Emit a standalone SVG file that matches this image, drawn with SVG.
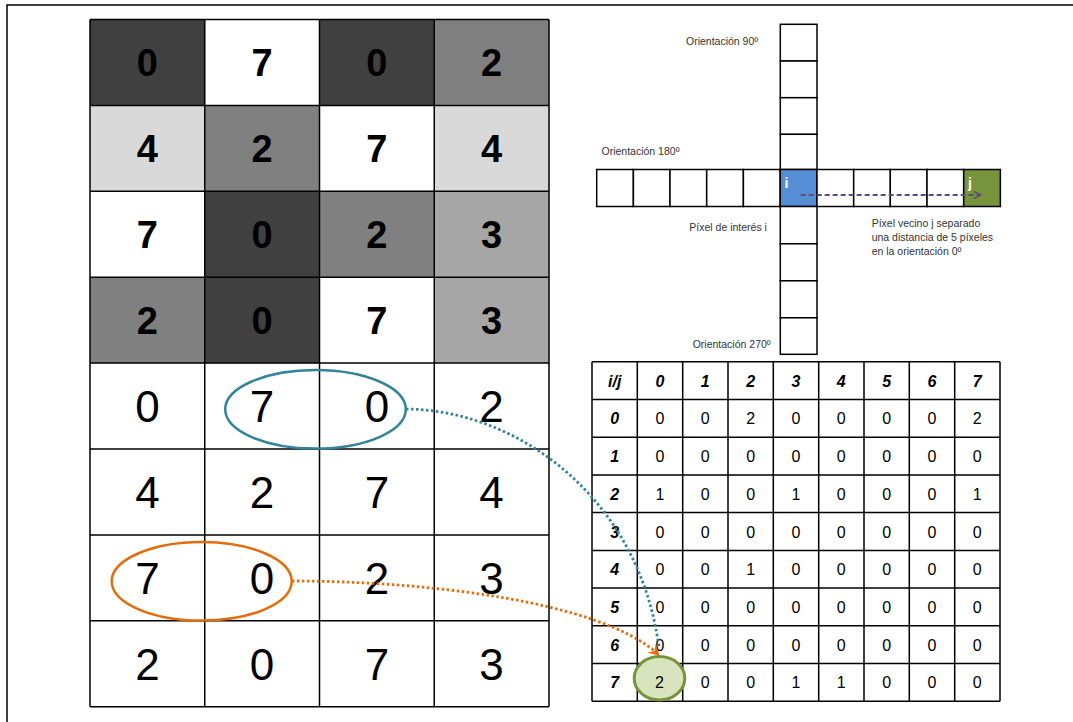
<svg xmlns="http://www.w3.org/2000/svg" width="1073" height="722" viewBox="0 0 1073 722">
<defs>
<style>
.ln{stroke:#000;stroke-width:1.5;fill:none}
.cell{stroke:#000;stroke-width:1.5}
.bigb{font-family:"Liberation Sans",Arial,sans-serif;font-weight:bold;font-size:38px;text-anchor:middle;fill:#000}
.bigr{font-family:"Liberation Sans",Arial,sans-serif;font-size:44px;text-anchor:middle;fill:#000}
.lbl{font-family:"Liberation Sans",Arial,sans-serif;font-size:10.5px;fill:#333}
.mh{font-family:"Liberation Sans",Arial,sans-serif;font-size:16px;font-weight:bold;font-style:italic;text-anchor:middle;fill:#000}
.mv{font-family:"Liberation Sans",Arial,sans-serif;font-size:16px;text-anchor:middle;fill:#000}
.ij{font-family:"Liberation Sans",Arial,sans-serif;font-size:14px;font-weight:bold;fill:#fff}
</style>
<marker id="orh" viewBox="0 0 12 12" refX="10" refY="6" markerWidth="12" markerHeight="12" markerUnits="userSpaceOnUse" orient="auto">
<path d="M0,0 L11,6 L0,12 L4,6 z" fill="#E46C0A"/>
</marker>
<marker id="pah" viewBox="0 0 10 10" refX="9" refY="5" markerWidth="9" markerHeight="9" markerUnits="userSpaceOnUse" orient="auto">
<path d="M1,1 L9,5 L1,9" fill="none" stroke="#604A7B" stroke-width="1.6"/>
</marker>
</defs>
<rect width="1073" height="722" fill="#fff"/>
<path d="M7,722 V5 H1073" fill="none" stroke="#000" stroke-width="1.5"/>

<g id="image-grid">
<rect x="90" y="19.5" width="114.75" height="85.9" fill="#404040"/>
<rect x="204.75" y="19.5" width="114.75" height="85.9" fill="#fff"/>
<rect x="319.5" y="19.5" width="114.75" height="85.9" fill="#404040"/>
<rect x="434.25" y="19.5" width="114.75" height="85.9" fill="#808080"/>
<rect x="90" y="105.4" width="114.75" height="85.9" fill="#D9D9D9"/>
<rect x="204.75" y="105.4" width="114.75" height="85.9" fill="#808080"/>
<rect x="319.5" y="105.4" width="114.75" height="85.9" fill="#fff"/>
<rect x="434.25" y="105.4" width="114.75" height="85.9" fill="#D9D9D9"/>
<rect x="90" y="191.3" width="114.75" height="85.9" fill="#fff"/>
<rect x="204.75" y="191.3" width="114.75" height="85.9" fill="#404040"/>
<rect x="319.5" y="191.3" width="114.75" height="85.9" fill="#808080"/>
<rect x="434.25" y="191.3" width="114.75" height="85.9" fill="#A6A6A6"/>
<rect x="90" y="277.2" width="114.75" height="85.9" fill="#808080"/>
<rect x="204.75" y="277.2" width="114.75" height="85.9" fill="#404040"/>
<rect x="319.5" y="277.2" width="114.75" height="85.9" fill="#fff"/>
<rect x="434.25" y="277.2" width="114.75" height="85.9" fill="#A6A6A6"/>
<path class="ln" d="M90,19.5 V706.7 M204.75,19.5 V706.7 M319.5,19.5 V706.7 M434.25,19.5 V706.7 M549,19.5 V706.7 M90,19.5 H549 M90,105.4 H549 M90,191.3 H549 M90,277.2 H549 M90,363.1 H549 M90,449 H549 M90,534.9 H549 M90,620.8 H549 M90,706.7 H549"/>
<text class="bigb" x="147.4" y="76">0</text><text class="bigb" x="262.1" y="76">7</text><text class="bigb" x="376.9" y="76">0</text><text class="bigb" x="491.6" y="76">2</text>
<text class="bigb" x="147.4" y="161.9">4</text><text class="bigb" x="262.1" y="161.9">2</text><text class="bigb" x="376.9" y="161.9">7</text><text class="bigb" x="491.6" y="161.9">4</text>
<text class="bigb" x="147.4" y="247.8">7</text><text class="bigb" x="262.1" y="247.8">0</text><text class="bigb" x="376.9" y="247.8">2</text><text class="bigb" x="491.6" y="247.8">3</text>
<text class="bigb" x="147.4" y="333.7">2</text><text class="bigb" x="262.1" y="333.7">0</text><text class="bigb" x="376.9" y="333.7">7</text><text class="bigb" x="491.6" y="333.7">3</text>
<text class="bigr" x="147.4" y="422">0</text><text class="bigr" x="262.1" y="422">7</text><text class="bigr" x="376.9" y="422">0</text><text class="bigr" x="491.6" y="422">2</text>
<text class="bigr" x="147.4" y="507.9">4</text><text class="bigr" x="262.1" y="507.9">2</text><text class="bigr" x="376.9" y="507.9">7</text><text class="bigr" x="491.6" y="507.9">4</text>
<text class="bigr" x="147.4" y="593.8">7</text><text class="bigr" x="262.1" y="593.8">0</text><text class="bigr" x="376.9" y="593.8">2</text><text class="bigr" x="491.6" y="593.8">3</text>
<text class="bigr" x="147.4" y="679.7">2</text><text class="bigr" x="262.1" y="679.7">0</text><text class="bigr" x="376.9" y="679.7">7</text><text class="bigr" x="491.6" y="679.7">3</text>
</g>

<g id="pair-70">
<ellipse cx="315.5" cy="409.3" rx="90.3" ry="39.3" fill="none" stroke="#31849B" stroke-width="2.5"/>
</g>
<g id="pair-70b">
<ellipse cx="201.7" cy="581.3" rx="90" ry="39.3" fill="none" stroke="#E46C0A" stroke-width="2.5"/>
</g>

<g id="neighbour-cross">
<rect class="cell" x="780.3" y="24.3" width="36.7" height="36.7" fill="#fff"/>
<rect class="cell" x="780.3" y="61" width="36.7" height="36.7" fill="#fff"/>
<rect class="cell" x="780.3" y="97.7" width="36.7" height="36.7" fill="#fff"/>
<rect class="cell" x="780.3" y="134.3" width="36.7" height="35.2" fill="#fff"/>
<rect class="cell" x="596.7" y="169.5" width="36.67" height="37" fill="#fff"/>
<rect class="cell" x="633.4" y="169.5" width="36.67" height="37" fill="#fff"/>
<rect class="cell" x="670" y="169.5" width="36.67" height="37" fill="#fff"/>
<rect class="cell" x="706.7" y="169.5" width="36.67" height="37" fill="#fff"/>
<rect class="cell" x="743.4" y="169.5" width="36.67" height="37" fill="#fff"/>
<rect class="cell" x="780.3" y="169.5" width="36.7" height="37" fill="#558ED5"/>
<rect class="cell" x="817" y="169.5" width="36.67" height="37" fill="#fff"/>
<rect class="cell" x="853.7" y="169.5" width="36.67" height="37" fill="#fff"/>
<rect class="cell" x="890.3" y="169.5" width="36.67" height="37" fill="#fff"/>
<rect class="cell" x="927" y="169.5" width="36.67" height="37" fill="#fff"/>
<rect class="cell" x="963.7" y="169.5" width="36.67" height="37" fill="#77933C"/>
<rect class="cell" x="780.3" y="206.5" width="36.7" height="37.3" fill="#fff"/>
<rect class="cell" x="780.3" y="243.8" width="36.7" height="37" fill="#fff"/>
<rect class="cell" x="780.3" y="280.8" width="36.7" height="37" fill="#fff"/>
<rect class="cell" x="780.3" y="317.8" width="36.7" height="36.5" fill="#fff"/>
<text class="ij" x="784.5" y="188">i</text>
<text class="ij" x="968" y="188">j</text>
<text class="lbl" x="686" y="45">Orientación 90º</text>
<text class="lbl" x="601.5" y="154.5">Orientación 180º</text>
<text class="lbl" x="689.3" y="230.7">Píxel de interés i</text>
<text class="lbl" x="871.7" y="227.3">Píxel vecino j separado</text>
<text class="lbl" x="871.7" y="241.3">una distancia de 5 píxeles</text>
<text class="lbl" x="871.7" y="255">en la orientación 0º</text>
<text class="lbl" x="692.7" y="347.7">Orientación 270º</text>
</g>

<g id="glcm-matrix">
<rect x="637.7" y="663.6" width="45.3" height="37.7" fill="#fff"/>
<path class="ln" d="M592,361.7 V701.3 M637.3,361.7 V701.3 M682.7,361.7 V701.3 M728,361.7 V701.3 M773.3,361.7 V701.3 M818.7,361.7 V701.3 M864,361.7 V701.3 M909.3,361.7 V701.3 M954.7,361.7 V701.3 M1000,361.7 V701.3 M592,361.7 H1000 M592,399.4 H1000 M592,437.2 H1000 M592,474.9 H1000 M592,512.6 H1000 M592,550.4 H1000 M592,588.1 H1000 M592,625.8 H1000 M592,663.6 H1000 M592,701.3 H1000"/>
<text class="mh" x="614.7" y="386.5">i/j</text><text class="mh" x="660" y="386.5">0</text><text class="mh" x="705.3" y="386.5">1</text><text class="mh" x="750.7" y="386.5">2</text><text class="mh" x="796" y="386.5">3</text><text class="mh" x="841.3" y="386.5">4</text><text class="mh" x="886.7" y="386.5">5</text><text class="mh" x="932" y="386.5">6</text><text class="mh" x="977.3" y="386.5">7</text>
<text class="mh" x="614.7" y="424.2">0</text><text class="mv" x="660" y="424.2">0</text><text class="mv" x="705.3" y="424.2">0</text><text class="mv" x="750.7" y="424.2">2</text><text class="mv" x="796" y="424.2">0</text><text class="mv" x="841.3" y="424.2">0</text><text class="mv" x="886.7" y="424.2">0</text><text class="mv" x="932" y="424.2">0</text><text class="mv" x="977.3" y="424.2">2</text>
<text class="mh" x="614.7" y="462">1</text><text class="mv" x="660" y="462">0</text><text class="mv" x="705.3" y="462">0</text><text class="mv" x="750.7" y="462">0</text><text class="mv" x="796" y="462">0</text><text class="mv" x="841.3" y="462">0</text><text class="mv" x="886.7" y="462">0</text><text class="mv" x="932" y="462">0</text><text class="mv" x="977.3" y="462">0</text>
<text class="mh" x="614.7" y="499.7">2</text><text class="mv" x="660" y="499.7">1</text><text class="mv" x="705.3" y="499.7">0</text><text class="mv" x="750.7" y="499.7">0</text><text class="mv" x="796" y="499.7">1</text><text class="mv" x="841.3" y="499.7">0</text><text class="mv" x="886.7" y="499.7">0</text><text class="mv" x="932" y="499.7">0</text><text class="mv" x="977.3" y="499.7">1</text>
<text class="mh" x="614.7" y="537.5">3</text><text class="mv" x="660" y="537.5">0</text><text class="mv" x="705.3" y="537.5">0</text><text class="mv" x="750.7" y="537.5">0</text><text class="mv" x="796" y="537.5">0</text><text class="mv" x="841.3" y="537.5">0</text><text class="mv" x="886.7" y="537.5">0</text><text class="mv" x="932" y="537.5">0</text><text class="mv" x="977.3" y="537.5">0</text>
<text class="mh" x="614.7" y="575.2">4</text><text class="mv" x="660" y="575.2">0</text><text class="mv" x="705.3" y="575.2">0</text><text class="mv" x="750.7" y="575.2">1</text><text class="mv" x="796" y="575.2">0</text><text class="mv" x="841.3" y="575.2">0</text><text class="mv" x="886.7" y="575.2">0</text><text class="mv" x="932" y="575.2">0</text><text class="mv" x="977.3" y="575.2">0</text>
<text class="mh" x="614.7" y="612.9">5</text><text class="mv" x="660" y="612.9">0</text><text class="mv" x="705.3" y="612.9">0</text><text class="mv" x="750.7" y="612.9">0</text><text class="mv" x="796" y="612.9">0</text><text class="mv" x="841.3" y="612.9">0</text><text class="mv" x="886.7" y="612.9">0</text><text class="mv" x="932" y="612.9">0</text><text class="mv" x="977.3" y="612.9">0</text>
<text class="mh" x="614.7" y="650.7">6</text><text class="mv" x="660" y="650.7">0</text><text class="mv" x="705.3" y="650.7">0</text><text class="mv" x="750.7" y="650.7">0</text><text class="mv" x="796" y="650.7">0</text><text class="mv" x="841.3" y="650.7">0</text><text class="mv" x="886.7" y="650.7">0</text><text class="mv" x="932" y="650.7">0</text><text class="mv" x="977.3" y="650.7">0</text>
<text class="mh" x="614.7" y="688.4">7</text><text class="mv" x="705.3" y="688.4">0</text><text class="mv" x="750.7" y="688.4">0</text><text class="mv" x="796" y="688.4">1</text><text class="mv" x="841.3" y="688.4">1</text><text class="mv" x="886.7" y="688.4">0</text><text class="mv" x="932" y="688.4">0</text><text class="mv" x="977.3" y="688.4">0</text>
</g>

<g id="result-cell">
<ellipse cx="659.5" cy="678.3" rx="25.3" ry="21.7" fill="#D7E4BD" stroke="#77933C" stroke-width="3"/>
<text class="mv" x="659.5" y="688.4" fill="#1a1a1a">2</text>
</g>

<g id="connectors">
<path d="M800.7,195 H981" fill="none" stroke="#604A7B" stroke-width="2" stroke-dasharray="5 3" marker-end="url(#pah)"/>
<path d="M406,409 C520,410 640,500 659,648" fill="none" stroke="#31849B" stroke-width="2.8" stroke-dasharray="2.5 2.5"/>
<path d="M292,581 C420,581 600,600 659,655" fill="none" stroke="#E46C0A" stroke-width="2.8" stroke-dasharray="2.5 2.5" marker-end="url(#orh)"/>
</g>
</svg>
